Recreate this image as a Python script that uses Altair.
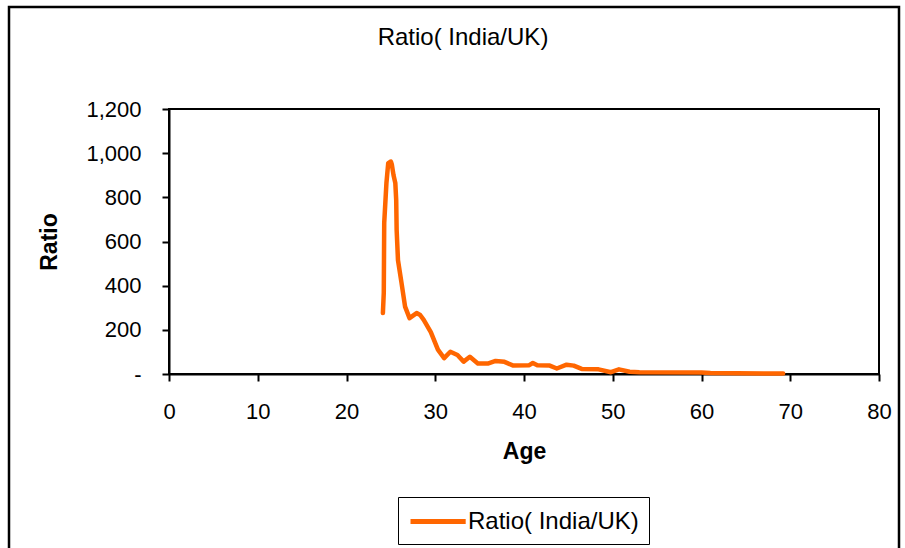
import altair as alt
import pandas as pd

ages = [24.1, 24.2, 24.25, 24.5, 24.7, 25.0, 25.1, 25.3, 25.5, 25.6, 25.65, 25.8, 26.2, 26.6,
        27.1, 27.9, 28.3, 28.7, 29.5, 30.3, 31.0, 31.7, 32.5, 33.2, 33.9, 34.8, 36.0, 36.8,
        37.8, 38.8, 40.6, 41.0, 41.5, 42.9, 43.7, 44.8, 45.6, 46.5, 48.4, 49.8, 50.7, 51.9,
        53.0, 60.0, 61.0, 69.2]
ratios = [276, 367, 684, 865, 955, 962, 950, 900, 865, 788, 652, 516, 412, 305,
          253, 276, 267, 245, 190, 110, 72, 101, 86, 56, 78, 48, 48, 59,
          55, 38, 40, 50, 40, 38, 25, 42, 38, 23, 21, 8, 21, 10,
          8, 7, 4, 2]
series_name = "Ratio( India/UK)"
title_text = "Ratio( India/UK)"
x_ticks = [0, 10, 20, 30, 40, 50, 60, 70, 80]
y_ticks = [0, 200, 400, 600, 800, 1000, 1200]

df = pd.DataFrame({"Age": ages, "Ratio": ratios, "i": list(range(len(ages))),
                   "series": [series_name] * len(ages)})

FONT = "Liberation Sans"

line = alt.Chart(df).mark_line(strokeWidth=4.5, strokeJoin="round", strokeCap="round").encode(
    x=alt.X("Age:Q", scale=alt.Scale(domain=[0, 80], nice=False),
            axis=alt.Axis(values=x_ticks, title="Age", grid=False, tickSize=7,
                          labelPadding=20, titlePadding=18, domainWidth=2, tickWidth=2,
                          labelFlush=False,
                          domainColor="black", tickColor="black")),
    y=alt.Y("Ratio:Q", scale=alt.Scale(domain=[0, 1200], nice=False),
            axis=alt.Axis(values=y_ticks, title="Ratio", grid=False, tickSize=7,
                          labelPadding=21, titlePadding=24, domainWidth=2, tickWidth=2,
                          labelFlush=False,
                          domainColor="black", tickColor="black",
                          labelExpr="datum.value == 0 ? '-' : format(datum.value, ',')")),
    color=alt.Color("series:N", scale=alt.Scale(range=["#FF6600"]),
                    legend=alt.Legend(title=None, orient="none", legendX=229, legendY=388,
                                      symbolType="M-1,0H3.6", symbolSize=576, symbolStrokeWidth=5,
                                      labelFontSize=24, labelFont=FONT, labelColor="black",
                                      labelLimit=400,
                                      strokeColor="black", padding=10, labelOffset=31,
                                      fillColor="white")),
    order=alt.Order("i:Q"),
)

one = pd.DataFrame({"t": [title_text]})

border = alt.Chart(one).mark_rect(
    fill=None, stroke="black", strokeWidth=2.5, clip=False
).encode(x=alt.value(-160), x2=alt.value(730), y=alt.value(-102), y2=alt.value(460))

title = alt.Chart(one).mark_text(
    font=FONT, fontSize=24, color="black", align="center", baseline="alphabetic"
).encode(text="t:N", x=alt.value(294), y=alt.value(-64))

chart = alt.layer(border, title, line).properties(
    width=710, height=265,
    autosize=alt.AutoSizeParams(type="none"),
    padding={"left": 169, "top": 109, "right": 26, "bottom": 174},
    background="white",
).configure_view(stroke="black", strokeWidth=2).configure_axis(
    labelFont=FONT, labelFontSize=22, labelColor="black",
    titleFont=FONT, titleFontSize=23, titleFontWeight="bold", titleColor="black",
)

chart.save("out.html", embed_options={"renderer": "svg", "actions": False})
